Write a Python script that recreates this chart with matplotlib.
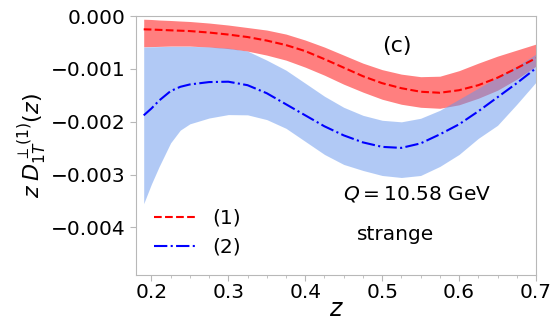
import numpy as np
import matplotlib
matplotlib.use('Agg')
import matplotlib.pyplot as plt
from matplotlib.ticker import MultipleLocator

# z grid
z = [0.19, 0.20, 0.21, 0.225, 0.2375, 0.25, 0.275, 0.30, 0.325, 0.35, 0.375, 0.40, 0.425,
     0.45, 0.475, 0.50, 0.525, 0.55, 0.575, 0.60, 0.625, 0.65, 0.675, 0.70]

# curva (1), em unidades de 1e-3
r_sup = [-0.061, -0.066, -0.076, -0.085, -0.095, -0.104, -0.133, -0.171, -0.218, -0.266, -0.342, -0.455, -0.588,
         -0.740, -0.892, -1.015, -1.100, -1.148, -1.139, -1.034, -0.892, -0.759, -0.645, -0.531]
r_cen = [-0.252, -0.256, -0.262, -0.271, -0.278, -0.285, -0.313, -0.351, -0.398, -0.465, -0.550, -0.664, -0.816,
         -0.977, -1.139, -1.271, -1.366, -1.433, -1.452, -1.404, -1.309, -1.167, -0.987, -0.797]
r_inf = [-0.583, -0.579, -0.575, -0.569, -0.569, -0.569, -0.588, -0.617, -0.664, -0.740, -0.835, -0.968, -1.120,
         -1.290, -1.440, -1.575, -1.670, -1.727, -1.746, -1.680, -1.556, -1.404, -1.195, -0.949]

# curva (2), em unidades de 1e-3
b_sup = [-0.588, -0.583, -0.579, -0.575, -0.575, -0.575, -0.584, -0.607, -0.664, -0.835, -1.025, -1.271, -1.518,
         -1.727, -1.879, -1.973, -2.002, -1.935, -1.784, -1.575, -1.366, -1.157, -0.949, -0.721]
b_cen = [-1.880, -1.750, -1.600, -1.420, -1.340, -1.295, -1.250, -1.243, -1.309, -1.461, -1.670, -1.879, -2.087,
         -2.258, -2.391, -2.476, -2.495, -2.410, -2.239, -2.049, -1.803, -1.537, -1.271, -0.987]
b_inf = [-3.550, -3.180, -2.850, -2.400, -2.160, -2.040, -1.930, -1.865, -1.870, -1.960, -2.125, -2.372, -2.619,
         -2.808, -2.922, -3.017, -3.055, -3.017, -2.846, -2.619, -2.315, -2.068, -1.670, -1.252]

esc = 1e-3
z = np.array(z)

fig = plt.figure(figsize=(5.54, 3.2), dpi=100)
ax = fig.add_axes([0.2455, 0.1406, 0.722, 0.8094])

ax.fill_between(z, np.array(r_inf) * esc, np.array(r_sup) * esc, color='red', alpha=0.5, lw=0)
ax.fill_between(z, np.array(b_inf) * esc, np.array(b_sup) * esc, color='cornflowerblue', alpha=0.5, lw=0)
ax.plot(z, np.array(r_cen) * esc, 'r--', lw=1.5, label='(1)')
ax.plot(z, np.array(b_cen) * esc, 'b-.', lw=1.5, label='(2)')

ax.set_xlim(0.18, 0.70)
ax.set_ylim(-0.0049, 0.0)
ax.set_yticks([0.0, -0.001, -0.002, -0.003, -0.004])
ax.set_yticklabels(['0.000', '\u22120.001', '\u22120.002', '\u22120.003', '\u22120.004'])
ax.xaxis.set_minor_locator(MultipleLocator(0.025))

for s in ax.spines.values():
    s.set_color('#b8b8b8')
ax.tick_params(axis='both', which='major', labelsize=14.5, colors='#b8b8b8', labelcolor='black', length=4)
ax.tick_params(axis='x', which='major', pad=1.5)
ax.tick_params(axis='x', which='minor', colors='#b8b8b8', length=2)

ax.set_xlabel('$z$', fontsize=17, labelpad=-3)
ax.set_ylabel(r'$z\;D_{1T}^{\perp(1)}(z)$', fontsize=16, labelpad=2)

ax.text(0.519, -0.00057, '(c)', fontsize=16, ha='center', va='center')
ax.text(0.545, -0.00336, '$Q=10.58$ GeV', fontsize=14.5, ha='center', va='center')
ax.text(0.517, -0.00414, 'strange', fontsize=14.5, ha='center', va='center')

ax.legend(loc='lower left', frameon=False, fontsize=14.5, handlelength=2.1, handletextpad=0.8)

fig.savefig('out.png', dpi=100)
